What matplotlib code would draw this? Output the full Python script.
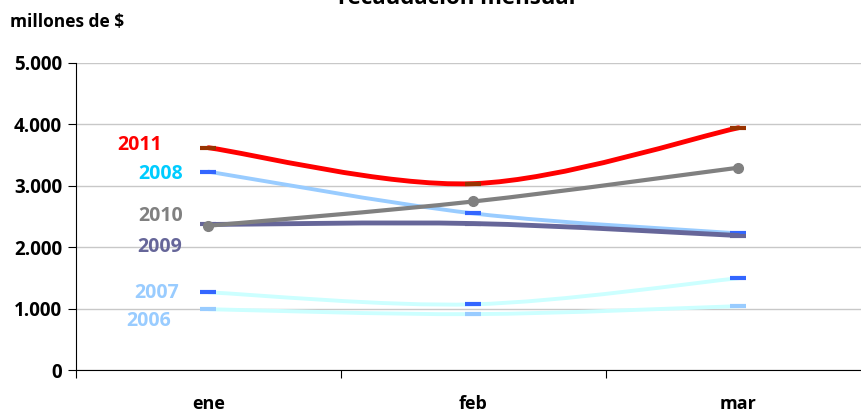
import matplotlib.pyplot as plt
from matplotlib.path import Path
from matplotlib.patches import PathPatch
from matplotlib.ticker import FuncFormatter

months = ['ene', 'feb', 'mar']
years = ['2006', '2007', '2008', '2009', '2010', '2011']
v2006 = [990, 910, 1040]
v2007 = [1265, 1070, 1495]
v2008 = [3230, 2550, 2225]
v2009 = [2370, 2385, 2190]
v2010 = [2350, 2745, 3295]
v2011 = [3620, 3035, 3945]

plt.rcParams['font.family'] = ['Open Sans', 'DejaVu Sans']
plt.rcParams['font.weight'] = 'bold'

fig = plt.figure(figsize=(8.61, 4.16), dpi=100)
ax = fig.add_axes([76 / 861, 1 - 370 / 416, 795 / 861, 307 / 416])

x = list(range(len(months)))


def smooth_path(xs, ys):
    # excel-style smoothed line (catmull-rom as cubic bezier)
    pts = list(zip(xs, ys))
    verts = [pts[0]]
    codes = [Path.MOVETO]
    n = len(pts)
    for i in range(n - 1):
        p0 = pts[max(i - 1, 0)]
        p1 = pts[i]
        p2 = pts[i + 1]
        p3 = pts[min(i + 2, n - 1)]
        c1 = (p1[0] + (p2[0] - p0[0]) / 6, p1[1] + (p2[1] - p0[1]) / 6)
        c2 = (p2[0] - (p3[0] - p1[0]) / 6, p2[1] - (p3[1] - p1[1]) / 6)
        verts += [c1, c2, p2]
        codes += [Path.CURVE4] * 3
    return Path(verts, codes)


# (values, line colour, marker, marker colour, line width, label colour, label pos)
series = [
    (v2006, '#ccffff', '_', '#99ccff', 2.8, '#99ccff', (-0.14, 800)),
    (v2007, '#ccffff', '_', '#3366ff', 2.8, '#99ccff', (-0.11, 1250)),
    (v2008, '#99ccff', '_', '#3366ff', 2.8, '#00ccff', (-0.095, 3195)),
    (v2009, '#666699', '_', '#666699', 3.5, '#666699', (-0.10, 2010)),
    (v2010, '#808080', 'o', '#808080', 3, '#808080', (-0.095, 2500)),
    (v2011, '#ff0000', '_', '#993300', 3.5, '#ff0000', (-0.175, 3670)),
]

for i, (vals, col, mk, mcol, lw, tcol, pos) in enumerate(series):
    ax.add_patch(PathPatch(smooth_path(x, vals), facecolor='none', edgecolor=col,
                           lw=lw, capstyle='round', zorder=3 + i))
    if mk == 'o':
        ax.plot(x, vals, ls='none', marker='o', ms=7, color=mcol, zorder=3.5 + i)
    else:
        ax.plot(x, vals, ls='none', marker='_', ms=12, mew=3, color=mcol, zorder=3.5 + i)
    ax.text(pos[0], pos[1], years[i], color=tcol, fontsize=14, fontweight='bold',
            ha='right', va='center')

ax.set_xlim(-0.5, 2.5)
ax.set_ylim(0, 5000)
ax.set_yticks(range(0, 5001, 1000))
ax.yaxis.set_major_formatter(FuncFormatter(lambda v, p: f'{int(v):,}'.replace(',', '.')))
ax.set_xticks([-0.5, 0.5, 1.5, 2.5])
ax.set_xticklabels([])
ax.set_xticks(x, minor=True)
ax.set_xticklabels(months, minor=True)
ax.tick_params(axis='x', which='minor', length=0, pad=18, labelsize=13)
ax.tick_params(axis='x', which='major', length=6, direction='out')
ax.tick_params(axis='y', length=6, direction='out', labelsize=13.5, pad=4)
for lab in ax.get_xticklabels(minor=True) + ax.get_yticklabels():
    lab.set_fontweight('bold')

ax.grid(axis='y', color='#c8c8c8', lw=1)
ax.set_axisbelow(True)
ax.spines['top'].set_visible(False)
ax.spines['right'].set_visible(False)
ax.spines['left'].set_color('black')
ax.spines['bottom'].set_color('black')

fig.text(10 / 861, 1 - 22 / 416, 'millones de $', fontsize=12.5, fontweight='bold', va='center')
fig.text(457 / 861, 1 - 4 / 416, 'recaudación mensual', fontsize=16, fontweight='bold',
         ha='center', va='baseline')

fig.savefig('out.png', dpi=100)
